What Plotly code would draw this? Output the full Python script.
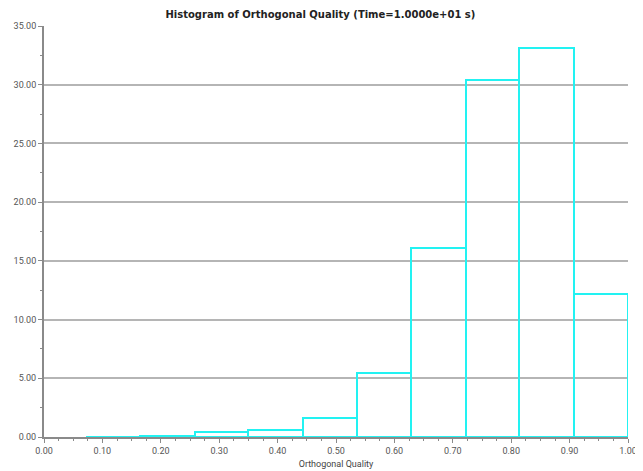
import plotly.graph_objects as go

bin_edges = [0.072, 0.165, 0.258, 0.350, 0.443, 0.536, 0.629, 0.722, 0.814, 0.907, 1.0]
percent = [0.02, 0.1, 0.45, 0.6, 1.6, 5.45, 16.1, 30.4, 33.1, 12.2]

centers = [(a + b) / 2 for a, b in zip(bin_edges[:-1], bin_edges[1:])]
widths = [b - a for a, b in zip(bin_edges[:-1], bin_edges[1:])]

fig = go.Figure()
fig.add_trace(go.Bar(
    x=centers, y=percent, width=widths,
    marker=dict(color="rgba(0,0,0,0)", line=dict(color="#22F2F2", width=2)),
    hoverinfo="x+y",
))

font_family = "Roboto, Open Sans, sans-serif"
fig.update_layout(
    width=635, height=463,
    margin=dict(l=36, r=15, t=18, b=34),
    paper_bgcolor="white", plot_bgcolor="white",
    showlegend=False,
    bargap=0,
    title=dict(text="<b>Histogram of Orthogonal Quality (Time=1.0000e+01 s)</b>",
               x=0.492, xanchor="center", y=0.994, yanchor="top", pad=dict(t=0),
               font=dict(family="DejaVu Sans, sans-serif", size=10, color="#222222")),
    font=dict(family=font_family, size=9, color="#444444"),
)
fig.update_xaxes(
    range=[0, 1], dtick=0.1, tick0=0, tickformat=".2f",
    automargin=False,
    showgrid=False, zeroline=False,
    showline=True, linecolor="#8a8a8a", linewidth=2,
    ticks="outside", ticklen=4, tickcolor="#8a8a8a",
    minor=dict(dtick=0.025, ticks="outside", ticklen=2, tickcolor="#8a8a8a"),
    title=dict(text="Orthogonal Quality", font=dict(size=9, color="#444444"), standoff=6),
    tickfont=dict(size=9, color="#555555"),
)
fig.update_yaxes(
    range=[0, 35], dtick=5, tick0=0, tickformat=".2f",
    automargin=False,
    showgrid=True, gridcolor="#b5b5b5", gridwidth=1.5, zeroline=False,
    showline=True, linecolor="#8a8a8a", linewidth=2,
    ticks="outside", ticklen=4, tickcolor="#8a8a8a",
    minor=dict(dtick=2.5, ticks="outside", ticklen=2, tickcolor="#8a8a8a", showgrid=False),
    tickfont=dict(size=9, color="#555555"),
)

fig.write_html("out.html")
